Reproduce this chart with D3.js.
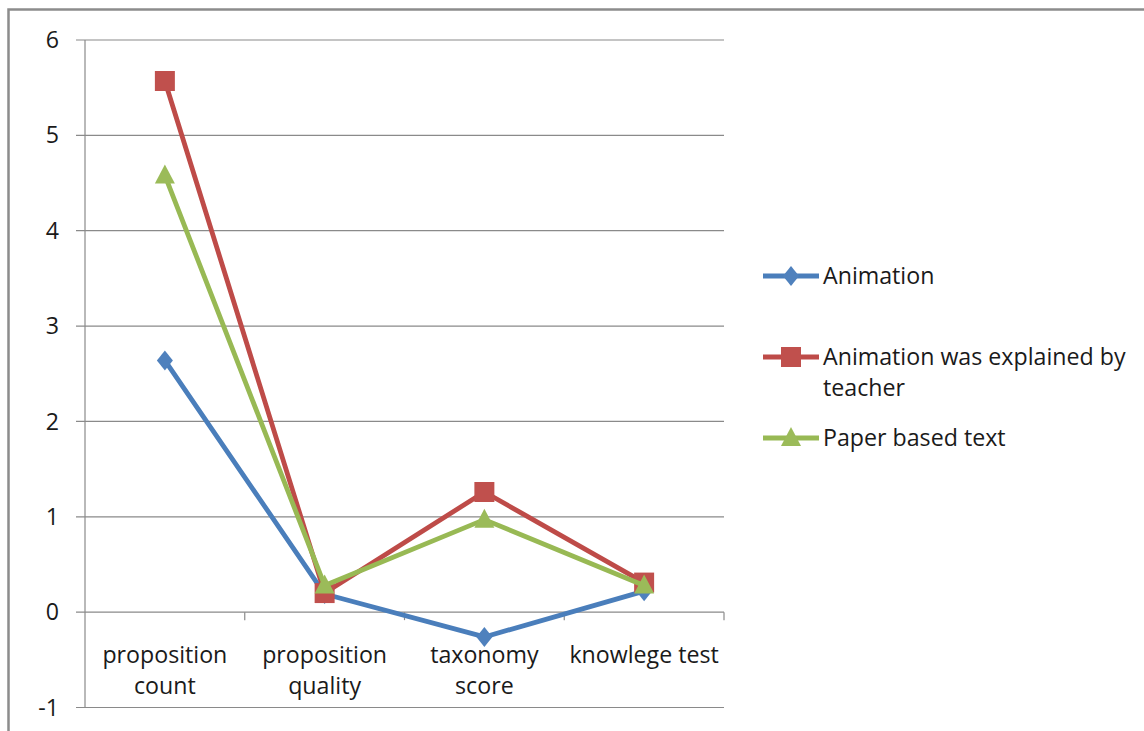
<!DOCTYPE html>
<html><head><meta charset="utf-8">
<script src="https://cdn.jsdelivr.net/npm/d3@7/dist/d3.min.js"></script>
<style>body{margin:0;background:#fff;}svg{display:block;}text{font-family:"Open Sans",Lato,sans-serif;fill:#1a1a1a;}</style>
</head><body>
<script>
const categories = [["proposition","count"],["proposition","quality"],["taxonomy","score"],["knowlege test"]];
const animation = [2.64, 0.19, -0.26, 0.22];
const explained = [5.57, 0.20, 1.26, 0.31];
const paper = [4.58, 0.28, 0.97, 0.28];
const yTicks = [-1,0,1,2,3,4,5,6];
const seriesNames = [["Animation"],["Animation was explained by","teacher"],["Paper based text"]];

const W=1144,H=731;
const FS=23.2;
const svg=d3.select("body").append("svg").attr("width",W).attr("height",H);
svg.append("rect").attr("x",8.5).attr("y",9.5).attr("width",1300).attr("height",900).attr("fill","none").attr("stroke","#8c8c8c").attr("stroke-width",2.5);

const x0=85,x1=724,yTop=40,yBot=707.5;
const y=d3.scaleLinear().domain([-1,6]).range([yBot,yTop]);
const xb=d3.scaleBand().domain(d3.range(categories.length)).range([x0,x1]);
const xc=i=>xb(i)+xb.bandwidth()/2;

svg.append("g").selectAll("line").data(yTicks).join("line")
 .attr("x1",x0-9).attr("x2",x1).attr("y1",d=>y(d)).attr("y2",d=>y(d))
 .attr("stroke","#8a8a8a").attr("stroke-width",1.2);
svg.append("line").attr("x1",x0).attr("x2",x0).attr("y1",yTop).attr("y2",yBot).attr("stroke","#8a8a8a").attr("stroke-width",1.2);
svg.append("g").selectAll("text").data(yTicks).join("text")
 .attr("x",59).attr("y",d=>y(d)).attr("dy","0.35em").attr("text-anchor","end").attr("font-size",FS).text(d=>d);
const tickPos=d3.range(categories.length).map(i=>xb(i)+xb.bandwidth());
svg.append("g").selectAll("line").data(tickPos).join("line")
 .attr("x1",d=>d).attr("x2",d=>d).attr("y1",y(0)).attr("y2",y(0)+8).attr("stroke","#8a8a8a").attr("stroke-width",1.2);
const cl=svg.append("g").selectAll("text").data(categories).join("text")
 .attr("text-anchor","middle").attr("font-size",FS).attr("y",655);
cl.each(function(d,i){
  const t=d3.select(this);
  d.forEach((s,j)=>t.append("tspan").attr("x",xc(i)).attr("y",655+j*31).attr("dy","0.35em").text(s));
});

const series=[
 {vals:animation,line:"#4a7ebb",fill:"#4f81bd",sym:"diamond"},
 {vals:explained,line:"#be4b48",fill:"#c0504d",sym:"square"},
 {vals:paper,line:"#98b954",fill:"#9bbb59",sym:"triangle"}];
const symPath=(t)=>{
  if(t==="diamond") return "M0,-10L8,0L0,10L-8,0Z";
  if(t==="square") return "M-10,-10H10V10H-10Z";
  return "M0,-11L10,8H-10Z";
};
const line=d3.line().x((d,i)=>xc(i)).y(d=>y(d));
series.forEach(s=>{
  svg.append("path").attr("d",line(s.vals)).attr("fill","none").attr("stroke",s.line).attr("stroke-width",4.8).attr("stroke-linejoin","round");
  svg.append("g").selectAll("path").data(s.vals).join("path")
   .attr("transform",(d,i)=>`translate(${xc(i)},${y(d)})`).attr("d",symPath(s.sym)).attr("fill",s.fill);
});

const legY=[276,357,438];
series.forEach((s,k)=>{
  const g=svg.append("g").attr("transform",`translate(0,${legY[k]})`);
  g.append("line").attr("x1",763).attr("x2",819).attr("stroke",s.line).attr("stroke-width",4.8);
  g.append("path").attr("transform","translate(791,0)").attr("d",symPath(s.sym)).attr("fill",s.fill);
  const t=g.append("text").attr("font-size",FS);
  seriesNames[k].forEach((n,j)=>t.append("tspan").attr("x",823).attr("y",j*31).attr("dy","0.35em").text(n));
});
</script>
</body></html>
